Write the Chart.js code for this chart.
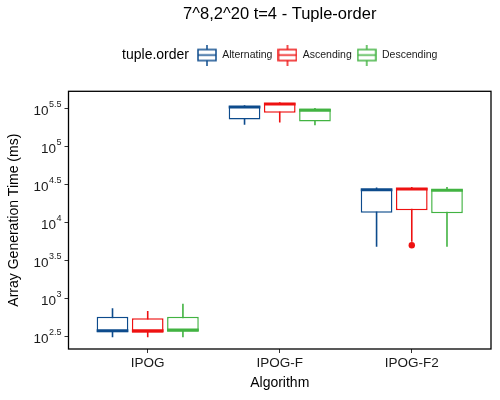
<!DOCTYPE html>
<html>
<head>
<meta charset="utf-8">
<script src="https://cdn.jsdelivr.net/npm/chart.js@4.4.1/dist/chart.umd.min.js"></script>
<style>
  html, body { margin: 0; padding: 0; background: #fff; }
  #contenedor { width: 500px; height: 400px; }
</style>
</head>
<body>
<div id="contenedor"><canvas id="grafico"></canvas></div>
<script>
const algoritmos = ['IPOG', 'IPOG-F', 'IPOG-F2'];
const ordenes = ['Alternating', 'Ascending', 'Descending'];
const colores = ['#0d4b8c', '#ee1111', '#42b342'];

// [min, q1, mediana, q3, max] por algoritmo, en ms
const alternating = [
  [307, 357, 375, 573, 738],
  [194500, 226500, 331900, 342000, 349100],
  [4775, 13370, 26900, 27400, 28900],
];
const ascending = [
  [307, 352, 375, 546, 681],
  [207000, 279900, 363900, 375000, 382800],
  [5560, 14520, 27670, 28510, 29380],
];
const descending = [
  [307, 364, 383, 573, 849],
  [190500, 213300, 300600, 316200, 322100],
  [4775, 13240, 26600, 27400, 29380],
];
const atipicosAscending = [null, null, 5010];

const exponentesY = [2.5, 3, 3.5, 4, 4.5, 5, 5.5];
const rangoY = [215, 534600];

const fuente = '"Liberation Sans", Arial, sans-serif';
const grosorMediana = Math.pow(10, 0.02);

// glifo de la leyenda: cajita con bigotes
function crearGlifo(color) {
  const c = document.createElement('canvas');
  c.width = 20;
  c.height = 21;
  const g = c.getContext('2d');
  g.strokeStyle = color;
  g.lineWidth = 1.5;
  g.beginPath();
  g.moveTo(10, 0);
  g.lineTo(10, 21);
  g.stroke();
  g.fillStyle = '#fff';
  g.fillRect(1, 5, 18, 11);
  g.strokeRect(1, 5, 18, 11);
  g.beginPath();
  g.moveTo(1, 10.5);
  g.lineTo(19, 10.5);
  g.stroke();
  return c;
}
const glifos = colores.map(crearGlifo);

const series = [alternating, ascending, descending];
const datasets = [];

series.forEach((serie, k) => {
  datasets.push({
    label: ordenes[k] + ' bigote',
    stack: ordenes[k],
    order: 3,
    data: serie.map((b, i) => ({ x: i + 1, y: [b[0], b[4]] })),
    backgroundColor: colores[k],
    borderWidth: 0,
    maxBarThickness: 1.6,
  });
  datasets.push({
    label: ordenes[k],
    stack: ordenes[k],
    order: 2,
    data: serie.map((b, i) => ({ x: i + 1, y: [b[1], b[3]] })),
    backgroundColor: '#ffffff',
    borderColor: colores[k],
    borderWidth: 1.5,
    borderSkipped: false,
  });
  datasets.push({
    label: ordenes[k] + ' mediana',
    stack: ordenes[k],
    order: 1,
    data: serie.map((b, i) => ({ x: i + 1, y: [b[2] / grosorMediana, b[2] * grosorMediana] })),
    backgroundColor: colores[k],
    borderWidth: 0,
  });
});

datasets.push({
  type: 'line',
  label: 'atipicos',
  order: 0,
  showLine: false,
  data: atipicosAscending.map((v, i) => (v === null ? null : { x: i + 1, y: v })).filter(p => p !== null),
  pointRadius: 3.2,
  pointBackgroundColor: colores[1],
  pointBorderWidth: 0,
});

const marcoPanel = {
  id: 'marcoPanel',
  afterDraw(chart) {
    const { ctx, chartArea: a } = chart;
    ctx.save();
    ctx.strokeStyle = '#000';
    ctx.lineWidth = 1.3;
    ctx.strokeRect(a.left, a.top, a.right - a.left, a.bottom - a.top);
    ctx.restore();
  },
};

// etiquetas 10^x del eje y con exponente en superindice
const etiquetasLog = {
  id: 'etiquetasLog',
  afterDraw(chart) {
    const { ctx } = chart;
    const y = chart.scales.y;
    const derecha = chart.chartArea.left - 7;
    ctx.save();
    ctx.fillStyle = '#1a1a1a';
    ctx.textBaseline = 'middle';
    ctx.textAlign = 'right';
    y.ticks.forEach((t, i) => {
      const py = y.getPixelForValue(t.value);
      const exp = String(exponentesY[i]);
      ctx.font = '9px ' + fuente;
      const anchoExp = ctx.measureText(exp).width;
      ctx.fillText(exp, derecha, py - 4);
      ctx.font = '13.5px ' + fuente;
      ctx.fillText('10', derecha - anchoExp - 0.5, py + 2.5);
    });
    ctx.restore();
  },
};

const tituloLeyenda = {
  id: 'tituloLeyenda',
  afterLayout(chart) {
    const lg = chart.legend;
    const ctx = chart.ctx;
    ctx.save();
    ctx.font = '14px ' + fuente;
    const ancho = ctx.measureText('tuple.order').width;
    ctx.restore();
    const desplazamiento = (ancho + 8) / 2;
    lg.left += desplazamiento;
    lg.right += desplazamiento;
  },
  afterDraw(chart) {
    const hb = chart.legend.legendHitBoxes[0];
    if (!hb) return;
    const ctx = chart.ctx;
    ctx.save();
    ctx.font = '14px ' + fuente;
    ctx.fillStyle = '#000';
    ctx.textAlign = 'right';
    ctx.textBaseline = 'middle';
    ctx.fillText('tuple.order', hb.left - 8, hb.top + hb.height / 2);
    ctx.restore();
  },
};

new Chart(document.getElementById('grafico').getContext('2d'), {
  type: 'bar',
  data: { datasets },
  plugins: [marcoPanel, etiquetasLog, tituloLeyenda],
  options: {
    responsive: true,
    maintainAspectRatio: false,
    animation: false,
    layout: { padding: { left: 0, right: 9, top: 0, bottom: 0 } },
    plugins: {
      tooltip: { enabled: false },
      title: {
        display: true,
        text: '7^8,2^20 t=4 - Tuple-order',
        color: '#000',
        fullSize: false,
        font: { family: fuente, size: 16.5, weight: 'normal' },
        padding: { top: 5, bottom: 20 },
      },
      legend: {
        display: true,
        position: 'top',
        fullSize: false,
        onClick: null,
        labels: {
          usePointStyle: true,
          pointStyleWidth: 20,
          padding: 5,
          color: '#1a1a1a',
          font: { family: fuente, size: 10.5 },
          generateLabels: () => ordenes.map((o, k) => ({
            text: o,
            pointStyle: glifos[k],
            fillStyle: '#fff',
            strokeStyle: colores[k],
            lineWidth: 0,
            hidden: false,
            fontColor: '#1a1a1a',
            datasetIndex: k * 3 + 1,
          })),
        },
      },
    },
    scales: {
      x: {
        type: 'linear',
        position: 'bottom',
        offset: false,
        min: 0.4,
        max: 3.6,
        afterBuildTicks: s => { s.ticks = algoritmos.map((a, i) => ({ value: i + 1 })); },
        afterFit: s => { s.height = 51; },
        ticks: {
          callback: v => algoritmos[v - 1],
          color: '#1a1a1a',
          padding: 2,
          font: { family: fuente, size: 13.5 },
        },
        grid: { offset: false, drawOnChartArea: false, drawTicks: true, tickLength: 4, color: '#333' },
        border: { display: false },
        title: {
          display: true,
          text: 'Algorithm',
          color: '#000',
          font: { family: fuente, size: 14 },
          padding: { top: 0, bottom: 8.6 },
        },
      },
      xArriba: {
        type: 'linear',
        axis: 'x',
        position: 'top',
        display: true,
        offset: false,
        grid: { display: false },
        ticks: { display: false },
        border: { display: false },
        afterFit: s => { s.height = 21; },
      },
      y: {
        type: 'logarithmic',
        stacked: false,
        min: rangoY[0],
        max: rangoY[1],
        afterBuildTicks: s => { s.ticks = exponentesY.map(e => ({ value: Math.pow(10, e) })); },
        afterFit: s => { s.width = 68.5; },
        ticks: { display: false },
        grid: { drawOnChartArea: false, drawTicks: true, tickLength: 4, color: '#333' },
        border: { display: false },
        title: {
          display: true,
          text: 'Array Generation Time (ms)',
          color: '#000',
          font: { family: fuente, size: 14 },
          padding: { top: 5.6, bottom: 0 },
        },
      },
    },
  },
});
</script>
</body>
</html>
